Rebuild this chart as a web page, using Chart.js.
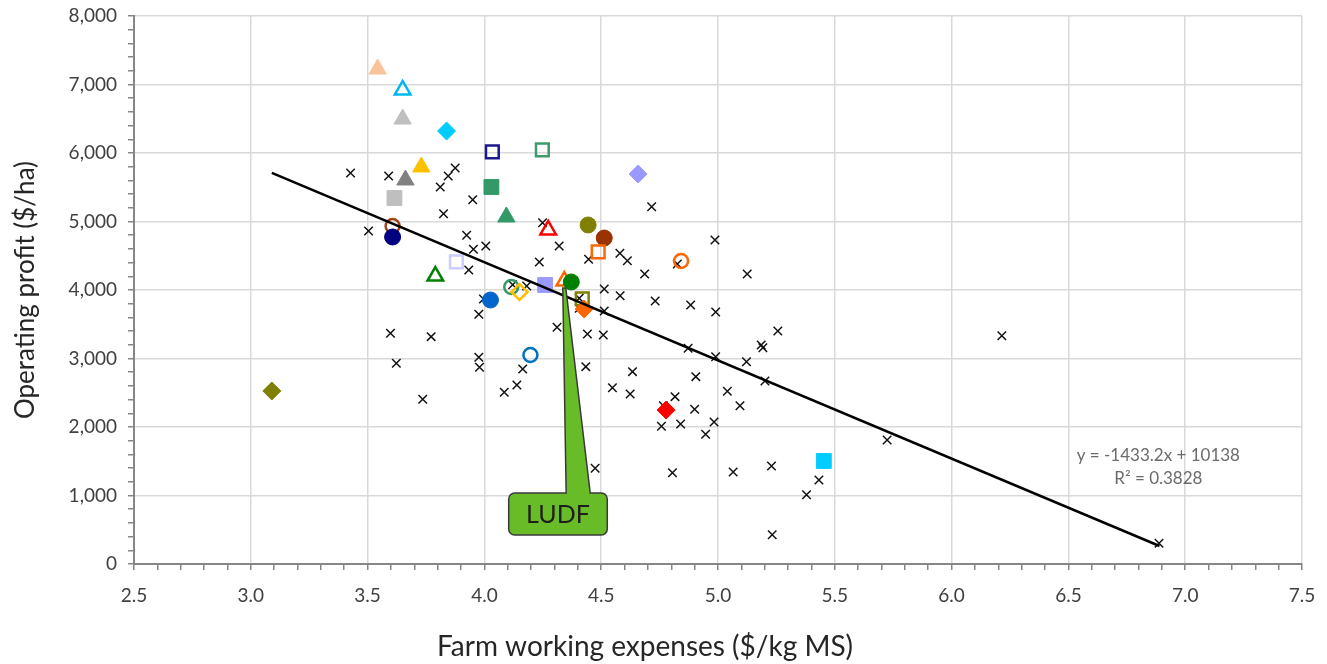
<!DOCTYPE html>
<html><head><meta charset="utf-8">
<script src="https://cdn.jsdelivr.net/npm/chart.js@4.4.1/dist/chart.umd.min.js"></script>
<style>html,body{margin:0;padding:0;background:#fff;}#wrap{width:1327px;height:664px;position:relative;}</style>
</head><body><div id="wrap"><canvas id="c" width="1327" height="664"></canvas></div>
<script>
// ---- Data ----
const farmX = [3.427,3.59,3.504,3.875,3.845,3.811,3.95,3.825,3.924,3.953,4.006,3.933,4.235,4.249,4.121,4.181,4.716,4.32,4.987,4.446,4.58,4.612,4.826,4.686,5.125,4.513,4.581,4.731,4.883,4.99,4.406,4.406,4.513,3.976,4.311,4.441,4.509,4.872,4.99,5.122,3.976,3.979,4.164,4.434,4.634,4.905,3.598,3.772,3.623,3.736,4.139,4.085,4.548,4.624,4.474,5.256,5.185,5.192,5.201,5.04,5.094,4.816,4.766,4.9,4.758,4.84,4.983,4.947,5.724,4.805,5.065,5.229,5.432,5.379,5.232,6.215,6.888,3.996];
const farmY = [5708,5664,4861,5781,5664,5504,5318,5114,4799,4594,4642,4292,4409,4982,4077,4058,5216,4642,4730,4448,4536,4428,4380,4234,4234,4015,3917,3839,3781,3679,3879,3733,3693,3645,3455,3358,3343,3149,3026,2953,3017,2872,2847,2881,2808,2735,3368,3319,2930,2404,2613,2507,2574,2482,1397,3401,3197,3158,2672,2521,2311,2443,2311,2258,2010,2044,2073,1893,1810,1333,1343,1431,1226,1012,428,3333,302,3869];

const keyX = [3.543,3.65,3.65,3.838,4.034,4.248,4.03,4.658,3.73,3.662,3.615,4.094,4.273,4.444,4.513,4.487,4.842,3.607,3.607,3.88,3.79,4.115,4.15,4.26,4.342,4.372,4.419,4.427,4.026,4.197,3.09,4.778,5.453];
const keyY = [7226,6920,6496,6321,6015,6044,5504,5693,5796,5606,5343,5066,4876,4949,4759,4555,4423,4934,4774,4409,4204,4044,3971,4073,4131,4117,3869,3723,3854,3051,2526,2248,1504];

const trendX = [3.09, 6.89];
const trendY = [5710, 263];

const xRange = [2.5, 7.5];
const yRange = [0, 8000];

const xTitle = 'Farm working expenses ($/kg MS)';
const yTitle = 'Operating profit ($/ha)';
const equationLines = ['y = -1433.2x + 10138', 'R\u00B2 = 0.3828'];
const equationAt = [6.885, 1577, 1241];      // x, y of line 1, y of line 2 (data units)
const calloutText = 'LUDF';
const calloutTip = [4.342, 4030];            // data units
const calloutBox = [4.104, 4.526, 1036, 423]; // x0, x1, yTop, yBottom (data units)
const calloutBase = [4.35, 4.453];           // pointer base x (data units)

// ---- Styles (shape, colour, filled) for highlighted farms ----
const keyStyle = [
 ['triangle','#F9C49A',1],['triangle','#00B8F0',0],['triangle','#BFBFBF',1],['rectRot','#00CCFF',1],
 ['rect','#1A1A8C',0],['rect','#3C9A6B',0],['rect','#339966',1],['rectRot','#9999FF',1],
 ['triangle','#FFC000',1],['triangle','#808080',1],['rect','#BFBFBF',1],['triangle','#339966',1],
 ['triangle','#FF0000',0],['circle','#808000',1],['circle','#993300',1],['rect','#FF6600',0],
 ['circle','#FF6600',0],['circle','#A0441A',0],['circle','#000080',1],['rect','#CCCCFF',0],
 ['triangle','#008000',0],['circle','#339966',0],['rectRot','#FFC000',0],['rect','#9999FF',1],
 ['triangle','#FF6600',0],['circle','#008000',1],['rect','#808000',0],['rectRot','#FF6600',1],
 ['circle','#0066CC',1],['circle','#0070C0',0],['rectRot','#808000',1],['rectRot','#FF0000',1],
 ['rect','#00CCFF',1]
];
function radiusFor(s){
  const [shape,,filled] = s;
  if (shape==='circle') return filled ? 8 : 7;
  if (shape==='triangle') return filled ? 10 : 9;
  if (shape==='rect') return filled ? 10.5 : 9;
  return filled ? 9 : 8;
}

const FONT = 'Lato';
const isMajorX = v => Math.abs(v*2 - Math.round(v*2)) < 1e-6;
const isMajorY = v => Math.abs(v % 1000) < 1e-6;

const overlay = {
  id:'overlay',
  afterDatasetsDraw(chart){
    const {ctx, scales:{x,y}} = chart;
    ctx.save();
    // equation
    ctx.fillStyle = '#6b6b6b';
    ctx.font = '17px ' + FONT;
    ctx.textAlign = 'center'; ctx.textBaseline = 'middle';
    ctx.fillText(equationLines[0], x.getPixelForValue(equationAt[0]), y.getPixelForValue(equationAt[1]));
    ctx.fillText(equationLines[1], x.getPixelForValue(equationAt[0]), y.getPixelForValue(equationAt[2]));
    // callout
    const x0 = x.getPixelForValue(calloutBox[0]), x1 = x.getPixelForValue(calloutBox[1]);
    const y0 = y.getPixelForValue(calloutBox[2]), y1 = y.getPixelForValue(calloutBox[3]);
    const bx0 = x.getPixelForValue(calloutBase[0]), bx1 = x.getPixelForValue(calloutBase[1]);
    const tx = x.getPixelForValue(calloutTip[0]), ty = y.getPixelForValue(calloutTip[1]);
    const r = 6;
    ctx.beginPath();
    ctx.moveTo(x0 + r, y0);
    ctx.lineTo(bx0, y0);
    ctx.lineTo(tx - 1.5, ty);
    ctx.lineTo(tx + 1.5, ty);
    ctx.lineTo(bx1, y0);
    ctx.lineTo(x1 - r, y0);
    ctx.arcTo(x1, y0, x1, y0 + r, r);
    ctx.lineTo(x1, y1 - r);
    ctx.arcTo(x1, y1, x1 - r, y1, r);
    ctx.lineTo(x0 + r, y1);
    ctx.arcTo(x0, y1, x0, y1 - r, r);
    ctx.lineTo(x0, y0 + r);
    ctx.arcTo(x0, y0, x0 + r, y0, r);
    ctx.closePath();
    ctx.fillStyle = '#68BC28';
    ctx.fill();
    ctx.strokeStyle = '#3a3a3a';
    ctx.lineWidth = 1.5;
    ctx.stroke();
    ctx.fillStyle = '#1e1e1e';
    ctx.font = '25px ' + FONT;
    ctx.fillText(calloutText, (x0 + x1)/2, (y0 + y1)/2 + 1);
    // x axis title
    ctx.fillStyle = '#262626';
    ctx.font = '28px ' + FONT;
    ctx.fillText(xTitle, 645, 647);
    ctx.restore();
  }
};

new Chart(document.getElementById('c'), {
  type: 'scatter',
  data: {
    datasets: [
      {
        label: 'Trend', type: 'line',
        data: trendX.map((v,i)=>({x:v, y:trendY[i]})),
        borderColor:'#000', borderWidth:2.5, pointRadius:0, fill:false, order:0
      },
      {
        label: 'Highlighted farms',
        data: keyX.map((v,i)=>({x:v, y:keyY[i]})),
        pointStyle: keyStyle.map(s=>s[0]),
        pointRadius: keyStyle.map(radiusFor),
        pointHoverRadius: keyStyle.map(radiusFor),
        backgroundColor: keyStyle.map(s=> s[2] ? s[1] : 'rgba(0,0,0,0)'),
        borderColor: keyStyle.map(s=>s[1]),
        borderWidth: keyStyle.map(s=> s[2] ? 1 : 2.5),
        order:1
      },
      {
        label: 'Farms',
        data: farmX.map((v,i)=>({x:v, y:farmY[i]})),
        pointStyle:'crossRot', pointRadius:6, pointHoverRadius:6,
        borderColor:'#111', backgroundColor:'#111', borderWidth:1.5,
        order:2
      }
    ]
  },
  options: {
    responsive:false, animation:false, devicePixelRatio:1,
    layout:{padding:{left:0, top:16, right:25, bottom:0}},
    plugins:{legend:{display:false}, tooltip:{enabled:false}},
    scales:{
      x:{
        type:'linear', min:xRange[0], max:xRange[1],
        ticks:{stepSize:0.1, autoSkip:false, maxRotation:0, minRotation:0, padding:14,
          color:'#404040', font:{family:FONT, size:19},
          callback:v=> isMajorX(v) ? Number(v).toFixed(1) : ''},
        grid:{color:c=> (c.tick && isMajorX(c.tick.value)) ? '#D9D9D9' : 'rgba(0,0,0,0)',
          lineWidth:1.5, tickColor:'#868686', tickLength:6, tickWidth:1.5},
        border:{color:'#868686', width:2},
        afterFit:s=>{s.height = 100; s.paddingLeft = 0; s.paddingRight = 0;}
      },
      y:{
        min:yRange[0], max:yRange[1],
        ticks:{stepSize:200, autoSkip:false, padding:11,
          color:'#404040', font:{family:FONT, size:19},
          callback:v=> isMajorY(v) ? Number(v).toLocaleString('en-US') : ''},
        grid:{color:c=> (c.tick && isMajorY(c.tick.value)) ? '#D9D9D9' : 'rgba(0,0,0,0)',
          lineWidth:1.5, tickColor:'#868686', tickLength:6, tickWidth:1.5},
        border:{color:'#868686', width:2},
        title:{display:true, text:yTitle, color:'#262626', font:{family:FONT, size:26}, padding:{top:10, bottom:0}},
        afterFit:s=>{s.width = 134; s.paddingTop = 0; s.paddingBottom = 0;}
      }
    }
  },
  plugins:[overlay]
});
</script>
</body></html>
